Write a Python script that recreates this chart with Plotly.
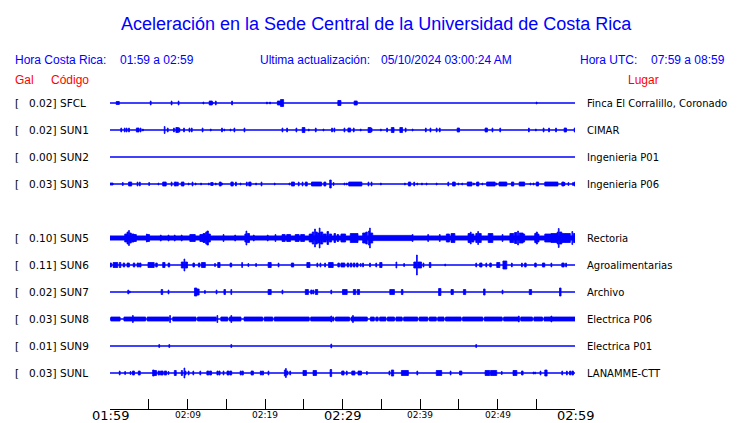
import plotly.graph_objects as go

# ---------------- data ----------------
tick_minutes = [0, 10, 20, 30, 40, 50, 60]
tick_labels = ["01:59", "02:09", "02:19", "02:29", "02:39", "02:49", "02:59"]
tick_major = [True, False, False, True, False, False, True]
minor_tick_minutes = list(range(0, 61, 5))

codes = ["SFCL", "SUN1", "SUN2", "SUN3", "SUN5", "SUN6", "SUN7", "SUN8", "SUN9", "SUNL"]
slots = [0, 1, 2, 3, 5, 6, 7, 8, 9, 10]
peaks = ["0.02", "0.02", "0.00", "0.03", "0.10", "0.11", "0.02", "0.03", "0.01", "0.03"]
places = ["Finca El Corralillo, Coronado", "CIMAR", "Ingenieria P01", "Ingenieria P06",
          "Rectoria", "Agroalimentarias", "Archivo", "Electrica P06", "Electrica P01", "LANAMME-CTT"]

# events: (minute after 01:59, duration in minutes, half amplitude)
SFCL_EV = [(0.8,0.4,1.5),(5.2,0.1,2),(7.9,0.1,2),(8.8,0.1,2),(12.0,0.1,1),(12.8,0.4,2),(13.2,0.1,1),
           (13.6,0.1,2),(15.7,0.1,2),(20.2,0.1,1),(20.6,0.1,1),(21.6,0.4,2),(22.0,0.4,3.5),
           (29.4,0.4,2.5),(31.5,0.4,2),(55.0,0.1,1)]
SUN1_EV = [(1.4,0.1,2),(1.85,0.1,2),(2.1,0.1,2),(2.4,0.1,2),(3.4,0.35,2),(3.9,0.1,2),(4.2,0.1,1),
           (7.0,0.1,3.5),(7.4,0.1,2),(8.2,0.1,2),(8.5,0.35,2.5),(8.9,0.1,2),(9.5,0.1,2),(10.2,0.1,2),
           (10.5,0.1,2),(11.9,0.1,2),(12.95,0.1,1),(14.4,0.1,2),(14.7,0.1,1),(15.5,0.1,1),(16.0,0.1,2),
           (17.3,0.1,2),(22.2,0.1,2),(22.8,0.1,2),(24.0,0.1,2),(24.8,0.35,2.5),(25.6,0.1,1),(26.5,0.1,2),
           (27.5,0.1,1),(28.6,0.1,2),(28.9,0.1,2),(30.2,0.1,2),(30.7,0.35,2),(31.4,0.1,2),(32.3,0.1,1),
           (33.3,0.35,2.5),(33.7,0.1,2),(34.9,0.1,1),(35.7,0.1,2),(36.3,0.35,2.5),(37.4,0.35,2.5),
           (38.1,0.1,2),(39.0,0.1,1),(40.7,0.1,2),(41.3,0.1,2),(42.1,0.1,2),(42.5,0.1,2),(44.8,0.3,2),
           (48.4,0.3,2),(49.3,0.1,2),(50.3,0.1,2),(54.0,0.1,2),(54.9,0.1,1),(55.9,0.1,2),(56.6,0.1,2),
           (57.5,0.1,2),(58.6,0.3,2),(59.9,0.1,2)]
SUN2_EV = []
SUN3_EV = [(0.0,0.4,1),(1.6,0.1,1.5),(2.4,0.4,2),(3.5,0.1,2),(3.8,0.1,2),(5.0,0.1,1.5),(6.2,0.1,1),
           (6.8,0.45,2),(7.9,0.1,2),(8.3,0.3,2),(8.7,0.1,2),(9.2,0.35,2),(10.1,0.1,1),(10.6,0.1,2),
           (11.0,0.1,1),(11.7,0.1,1),(12.7,0.1,1),(13.0,0.3,1.5),(13.6,0.1,1),(14.1,0.25,2),(14.4,0.1,1),
           (15.6,0.3,2),(16.2,0.1,2),(16.8,0.1,1),(17.6,0.1,2),(17.9,0.3,2),(18.8,0.1,1),(19.5,0.1,2),
           (21.2,0.1,1),(23.1,0.1,1),(23.4,0.4,2),(24.3,0.1,2),(24.8,0.1,2),(25.2,0.25,2),(26.0,1.3,2),
           (27.6,0.25,2),(28.35,0.2,4),(28.8,0.1,1.5),(30.2,0.1,1),(30.5,0.1,1),(30.8,1.7,2),(33.3,0.1,2),
           (33.7,0.1,2),(34.9,0.1,1),(38.0,0.1,1),(38.5,0.3,2),(39.2,0.1,2),(39.6,0.1,1),(40.2,0.1,1),
           (40.8,0.1,1),(42.1,0.1,1),(43.6,0.1,2),(44.2,0.35,2),(44.9,0.1,1),(45.4,0.1,1),(46.1,0.6,2),
           (46.9,0.1,1),(47.3,0.3,2),(48.0,0.1,1),(48.6,1.1,2),(49.8,0.1,1),(50.2,1.0,2),(51.8,0.3,2),
           (52.8,0.7,2),(54.2,0.1,1),(54.6,0.1,1),(55.0,0.3,2),(56.1,1.7,2),(58.3,0.3,2),(58.6,0.1,1.5),
           (59.1,0.1,1.5),(59.7,0.1,1.5),(59.9,0.1,2)]
SUN5_EV = [(0.0,33.9,2.1),(33.9,5.1,2.6),(39.0,21.0,2.1),
           (1.9,0.3,4),(2.2,0.15,6),(2.4,0.1,7.5),(2.55,0.2,5),(2.8,0.3,4),(3.1,0.3,3.5),
           (4.7,0.1,4),(4.8,0.3,3.5),(6.5,0.1,3),(7.5,0.1,3),(8.3,0.1,3),(9.2,0.1,3),(10.3,0.7,3.5),
           (11.6,0.4,3.5),(12.0,0.3,4.5),(12.35,0.1,6),(12.5,0.2,7),(12.7,0.25,4),(14.6,0.1,3.5),
           (16.1,0.1,3),(17.4,0.15,4),(17.55,0.1,7),(17.7,0.3,4.5),(18.5,0.1,3),(20.3,0.1,3),
           (21.3,0.1,3.5),(22.2,0.4,3.5),(22.8,0.5,3.5),(23.9,0.5,3.5),(24.6,0.5,3.5),
           (25.7,0.4,4),(26.1,0.2,6),(26.4,0.1,9),(26.55,0.2,6),(26.8,0.2,5),(27.0,0.1,10),(27.15,0.3,6),
           (27.5,0.4,4),(28.0,0.2,6.5),(28.3,0.3,4),(28.9,0.2,4.5),(29.3,0.2,3.5),(29.8,0.6,4),
           (31.0,1.0,4.5),(32.6,0.4,5),(33.0,0.2,6),(33.35,0.15,7),(33.5,0.08,10),(33.6,0.3,5),
           (39.0,0.1,3.5),(41.0,0.1,3.5),(42.5,0.1,3.5),(43.4,0.4,4),(44.0,0.5,4.5),
           (46.2,0.3,4.5),(46.5,0.1,6),(46.65,0.3,4),(47.2,0.2,4.5),(47.45,0.1,6.5),(47.6,0.3,4.5),
           (48.8,0.6,4.5),(50.6,0.1,3.5),(51.6,0.5,4.5),(52.2,0.3,5.5),(52.6,0.1,7),(52.8,0.5,5),
           (53.3,0.2,4),(54.8,0.2,4.5),(55.0,0.15,6),(55.15,0.2,4),(56.1,0.8,4),(56.9,0.8,4.5),
           (57.7,0.1,6),(57.85,0.1,9.5),(58.0,0.3,6),(58.3,0.5,4.5),(58.8,0.6,4.5),(59.6,0.1,6.5),
           (59.8,0.2,4.5)]
SUN6_EV = [(0.0,0.2,2),(0.4,0.6,2.5),(1.2,0.2,2.5),(1.7,0.2,2),(2.2,0.3,2),(3.0,0.2,2),(3.5,0.2,2),
           (3.8,0.2,2),(4.9,0.8,2.5),(5.9,0.2,2),(6.8,0.3,2.5),(7.5,0.2,2),(9.2,0.3,3),(9.55,0.1,6),
           (9.7,0.3,3),(10.7,0.2,2),(11.4,0.2,2),(11.8,0.5,2.5),(13.5,0.1,1.5),(13.9,0.3,2.5),
           (15.5,0.2,2),(17.0,0.1,2.5),(17.8,0.1,1.5),(18.8,0.1,1.5),(20.4,0.4,2.5),(21.7,0.1,2),
           (23.4,0.3,2),(25.4,0.4,2.5),(26.7,0.1,2),(27.1,0.1,2),(27.7,0.1,2),(28.2,0.6,2.5),
           (29.4,0.2,2),(29.8,0.5,2),(30.6,0.2,2),(31.0,0.2,2),(31.4,0.2,2),(31.8,0.2,2),(32.3,0.1,1.5),
           (32.6,0.1,2),(33.5,0.1,2),(34.3,0.1,2),(34.8,0.3,2.5),(36.9,0.1,3),(37.9,0.1,1.5),
           (39.2,0.3,3),(39.55,0.1,10),(39.7,0.5,3),(40.4,0.1,2),(41.2,0.2,2.5),(43.2,0.1,1),
           (47.2,0.1,2),(47.7,0.3,2),(48.5,0.1,2),(49.0,0.2,2),(49.9,0.4,2.5),(50.7,0.5,4),
           (51.8,0.1,2),(53.1,0.1,2),(53.5,0.2,2),(54.8,0.2,2),(55.8,0.3,2),(56.9,0.1,2),(58.3,0.3,2),
           (58.8,0.1,2)]
SUN7_EV = [(2.3,0.1,2),(2.5,0.1,1),(6.6,0.2,2.5),(7.5,0.1,2),(10.9,0.3,4),(11.2,0.3,3),(12.2,0.1,1.5),
           (13.7,0.1,2),(14.7,0.2,2.5),(15.6,0.1,2.5),(20.4,0.4,2.5),(22.2,0.1,2),(25.2,0.4,2.5),
           (25.9,0.2,2),(26.2,0.1,2),(26.5,0.3,2.5),(28.5,0.1,2),(30.0,0.6,2.5),(31.4,0.3,2.5),
           (31.9,0.3,2.5),(36.1,0.6,2.5),(37.6,0.2,2.5),(42.4,0.3,3.5),(44.0,0.3,2.5),(45.6,0.3,2.5),
           (48.2,0.2,3),(50.6,0.1,2),(54.1,0.3,2.5),(58.0,0.2,4)]
SUN8_EV = [(0.1,1.2,2),(1.8,2.8,2),(4.8,2.8,2),(8.1,3.0,2),(11.3,2.4,2),(14.3,0.9,2),
           (15.4,1.5,2),(17.3,2.4,2),(19.9,1.1,2),(21.2,4.5,2),(25.9,2.6,2),(28.7,0.2,2),
           (29.1,1.8,2),(31.1,2.1,2),(33.6,0.5,2),(34.3,0.3,2),(34.8,0.8,2),(35.8,0.9,2),
           (36.9,0.8,2),(37.9,1.8,2),(39.9,1.1,2),(41.2,0.9,2),(42.3,0.8,2),(43.3,2.0,2),
           (45.5,2.6,2),(48.3,2.3,2),(50.8,2.0,2),(53.0,1.5,2),(54.7,1.1,2),(56.0,4.0,2),
           (2.9,0.1,3.5),(7.7,0.1,3.5),(13.8,0.1,3.5),(15.6,0.1,3.5),(28.5,0.1,3),(31.3,0.1,3.5),
           (52.7,0.1,3),(56.9,0.1,3)]
SUN9_EV = [(6.3,0.1,1.5),(7.6,0.1,1.5),(15.6,0.1,1.5),(28.5,0.1,2),(47.2,0.1,1.5)]
SUNL_EV = [(1.2,0.1,2),(1.9,0.1,1.5),(2.6,0.1,1.5),(2.9,0.25,2),(3.65,0.25,2),(5.5,0.2,3),(5.7,0.3,2.5),
           (6.2,0.2,2),(6.5,0.35,2),(7.0,0.3,2),(7.5,0.1,1.5),(8.3,0.25,2.5),(9.2,0.15,2.5),(9.55,0.1,5),
           (9.7,0.1,2),(10.1,0.1,2),(10.7,0.1,2),(11.6,0.1,2),(12.5,0.25,2),(12.85,0.25,2),(13.8,0.15,2),
           (14.05,0.15,2),(14.6,0.1,2),(15.1,0.25,2),(15.45,0.25,2),(16.8,0.15,2),(17.05,0.15,2),
           (18.2,0.3,2),(19.4,0.15,2),(19.65,0.15,2),(20.4,0.1,2),(22.5,0.15,3),(22.65,0.1,4.5),
           (22.8,0.15,2),(23.2,0.1,2),(24.9,0.45,2.5),(26.2,0.45,2.5),(28.4,0.2,3.5),(29.9,0.3,2),
           (30.5,0.1,2),(31.2,0.4,2),(32.0,0.45,2),(33.1,0.1,1.5),(36.0,0.1,2),(36.3,0.3,3),
           (37.6,0.9,2.5),(39.6,0.1,2),(42.1,0.7,2.5),(43.9,0.1,2),(45.1,0.3,2),(48.4,0.6,2.5),
           (49.1,0.8,2.5),(50.5,0.1,1.5),(52.0,0.5,2.5),(53.1,0.2,2),(54.6,0.1,1),(54.8,0.1,1),
           (55.5,0.1,2),(56.1,0.3,3),(58.3,0.1,2),(58.9,0.1,2),(59.3,0.15,2),(59.6,0.2,2)]
events = [SFCL_EV, SUN1_EV, SUN2_EV, SUN3_EV, SUN5_EV, SUN6_EV, SUN7_EV, SUN8_EV, SUN9_EV, SUNL_EV]

# ---------------- layout helpers ----------------
OFF = 8                      # default page body margin
W, H = 740 - OFF, 423 - OFF
L, R, T, B = 110 - OFF, 575 - OFF, 90 - OFF, 409 - OFF
BLUE = "#0000FF"
RED = "#FF0000"
ROW0, ROWSTEP = 103 - OFF, 27
PAD = 2                      # annotation inner padding


def xp(px):
    return (px - OFF - L) / (R - L)


def yp(py):
    return (B - (py - OFF)) / (B - T)


def base_of(slot):
    return -((ROW0 + ROWSTEP * slot) - T)


fig = go.Figure()
for code, slot, ev in zip(codes, slots, events):
    b = base_of(slot)
    fig.add_trace(go.Scatter(x=[0, 60], y=[b, b], mode="lines",
                             line=dict(color=BLUE, width=1.3), hoverinfo="skip"))
    if ev:
        xs, ys = [], []
        for t, d, a in ev:
            xs += [t, t + d, t + d, t, t, None]
            ys += [b - a, b - a, b + a, b + a, b - a, None]
        fig.add_trace(go.Scatter(x=xs, y=ys, mode="lines", fill="toself", fillcolor=BLUE,
                                 line=dict(color=BLUE, width=0.8), hoverinfo="skip"))

ann = []
hdr = "Liberation Sans"
lab = "DejaVu Sans"


def add(text, px, py, size, color, family, anchor="left"):
    if anchor == "left":
        px -= PAD
    elif anchor == "right":
        px += PAD
    ann.append(dict(text=text, x=xp(px), y=yp(py), xref="paper", yref="paper",
                    xanchor=anchor, yanchor="middle", showarrow=False,
                    font=dict(size=size, color=color, family=family)))


add("Aceleración en la Sede Central de la Universidad de Costa Rica", 376, 23.5, 18, BLUE, hdr, "center")
add("Hora Costa Rica:", 15, 60, 12, BLUE, hdr)
add("01:59 a 02:59", 120, 60, 12, BLUE, hdr)
add("Ultima actualización:", 260, 60, 12, BLUE, hdr)
add("05/10/2024 03:00:24 AM", 381, 60, 12, BLUE, hdr)
add("Hora UTC:", 580, 60, 12, BLUE, hdr)
add("07:59 a 08:59", 651, 60, 12, BLUE, hdr)
add("Gal", 15, 80, 12, RED, hdr)
add("Código", 51, 80, 12, RED, hdr)
add("Lugar", 628, 80, 12, RED, hdr)

for code, slot, pk, place in zip(codes, slots, peaks, places):
    py = 103 + ROWSTEP * slot
    add("[", 15, py, 10.5, "black", lab)
    add(pk + "]", 56, py, 10.5, "black", lab, "right")
    add(code, 60, py, 10.5, "black", lab)
    add(place, 587, py, 10, "black", lab)

for m, txt, major in zip(tick_minutes, tick_labels, tick_major):
    ann.append(dict(text=txt, x=m, xref="x", y=yp(415.5 if major else 415), yref="paper",
                    xanchor="center", yanchor="middle", showarrow=False,
                    font=dict(size=13 if major else 9, color="black", family=lab)))

fig.update_layout(
    width=W, height=H, autosize=False,
    margin=dict(l=L, r=W - R, t=T, b=H - B, pad=0),
    paper_bgcolor="white", plot_bgcolor="white", showlegend=False,
    annotations=ann,
    xaxis=dict(range=[0, 60], tickvals=minor_tick_minutes, ticks="inside", ticklen=10,
               tickcolor="black", tickwidth=1, showticklabels=False, showline=True,
               linecolor="black", linewidth=1, showgrid=False, zeroline=False, fixedrange=True),
    yaxis=dict(range=[-(B - T), 0], visible=False, showgrid=False, zeroline=False, fixedrange=True),
)

fig.write_html("out.html")
